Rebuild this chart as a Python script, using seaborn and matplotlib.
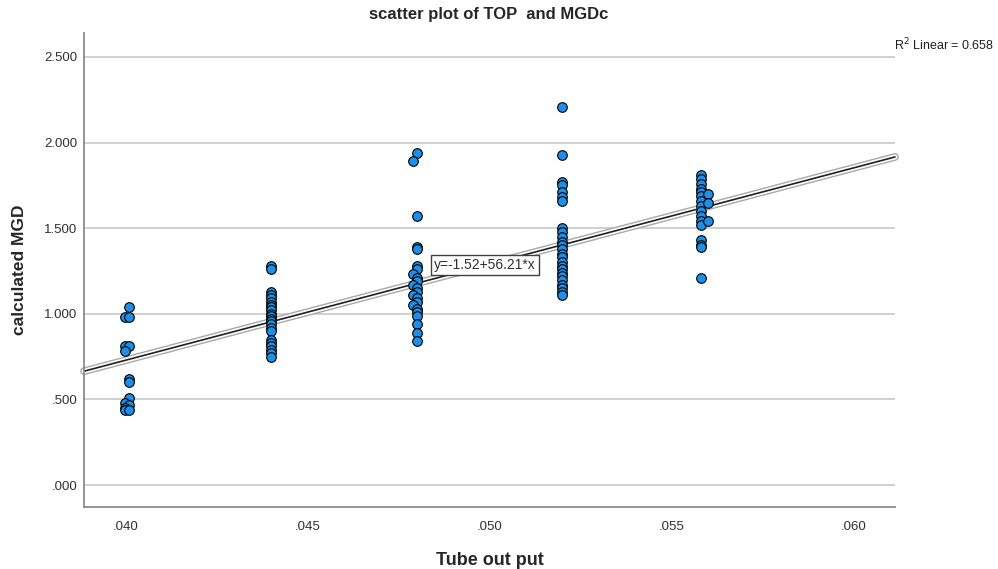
import numpy as np
import pandas as pd
import seaborn as sns
import matplotlib.pyplot as plt
from matplotlib.ticker import FuncFormatter

# values, one list per tube output group
x_040 = [.0401, .0400, .0401, .0400, .0401, .0400, .0401, .0401, .0401, .0400, .0401, .0400, .0400, .0401]
y_040 = [1.04, 0.98, 0.98, 0.81, 0.81, 0.78, 0.62, 0.60, 0.51, 0.48, 0.47, 0.45, 0.44, 0.44]

x_044 = [.044] * 22
y_044 = [1.28, 1.26, 1.13, 1.11, 1.09, 1.07, 1.05, 1.04, 1.02, 1.00, 0.99, 0.97, 0.96, 0.94,
         0.92, 0.90, 0.85, 0.83, 0.81, 0.79, 0.77, 0.75]

x_048 = [.0480, .0479, .0480, .0480, .0480, .0480, .0480, .0479, .0480, .0480, .0479, .0480,
         .0480, .0479, .0480, .0480, .0479, .0480, .0480, .0480, .0480, .0480, .0480]
y_048 = [1.94, 1.89, 1.57, 1.39, 1.38, 1.28, 1.26, 1.23, 1.21, 1.19, 1.17, 1.15, 1.13, 1.11,
         1.09, 1.07, 1.05, 1.03, 1.01, 0.99, 0.94, 0.89, 0.84]

x_052 = [.052] * 25
y_052 = [2.21, 1.93, 1.77, 1.75, 1.71, 1.68, 1.66, 1.50, 1.48, 1.45, 1.42, 1.40, 1.38, 1.35,
         1.33, 1.30, 1.28, 1.26, 1.24, 1.22, 1.20, 1.17, 1.15, 1.13, 1.11]

x_056 = [.0558, .0558, .0558, .0558, .0558, .0558, .0558, .0558, .0558, .0558, .0558, .0558,
         .0560, .0560, .0560, .0558, .0558, .0558, .0558]
y_056 = [1.81, 1.79, 1.76, 1.73, 1.71, 1.69, 1.66, 1.63, 1.60, 1.57, 1.54, 1.52, 1.70, 1.65,
         1.54, 1.43, 1.40, 1.39, 1.21]

# fit line as reported on the chart
intercept = -1.52
slope = 56.21
r2_text = "R$^2$ Linear = 0.658"
eq_text = "y=-1.52+56.21*x"

df = pd.DataFrame({
    'tube': x_040 + x_044 + x_048 + x_052 + x_056,
    'mgd': y_040 + y_044 + y_048 + y_052 + y_056,
})

sns.set_style("white")
plt.rcParams['font.family'] = ['Liberation Sans', 'DejaVu Sans']

fig = plt.figure(figsize=(9.98, 5.69), dpi=100)
ax = fig.add_axes([0.0842, 0.109, 0.8126, 0.833])

xmin, xmax = 0.03887, 0.06113
ax.set_xlim(xmin, xmax)
ax.set_ylim(-0.128, 2.64)

# horizontal grid lines
for v in [0, 0.5, 1.0, 1.5, 2.0, 2.5]:
    ax.axhline(v, color='#c8c8c8', lw=1.2, zorder=0)

# regression line with a halo
lx = np.array([xmin, xmax])
ly = intercept + slope * lx
ax.plot(lx, ly, color='#a8a8a8', lw=5.6, solid_capstyle='round', zorder=2, clip_on=False)
ax.plot(lx, ly, color='white', lw=3.6, solid_capstyle='round', zorder=2, clip_on=False)
ax.plot(lx, ly, color='#202020', lw=1.2, solid_capstyle='round', zorder=2, clip_on=False)

sns.scatterplot(data=df, x='tube', y='mgd', ax=ax, s=48, color='#1E8FE4',
                edgecolor='black', linewidth=0.8, zorder=3, legend=False)

ax.text(0.04848, 1.285, eq_text, fontsize=10, color='#303030', va='center', ha='left', zorder=4,
        bbox=dict(boxstyle='square,pad=0.2', facecolor='white', edgecolor='#404040', lw=1))

fig.text(0.896, 0.921, r2_text, fontsize=9, color='#202020', ha='left', va='center')

ax.set_xticks([0.040, 0.045, 0.050, 0.055, 0.060])
ax.set_yticks([0, 0.5, 1.0, 1.5, 2.0, 2.5])
ax.xaxis.set_major_formatter(FuncFormatter(lambda v, p: f"{v:.3f}".lstrip('0')))
ax.yaxis.set_major_formatter(FuncFormatter(lambda v, p: f"{v:.3f}".lstrip('0') if v < 1 else f"{v:.3f}"))
ax.tick_params(axis='both', length=0, labelsize=9.5, labelcolor='#303030')
ax.tick_params(axis='x', pad=10)
ax.tick_params(axis='y', pad=5)

for side in ['top', 'right']:
    ax.spines[side].set_visible(False)
for side in ['left', 'bottom']:
    ax.spines[side].set_color('#8c8c8c')
    ax.spines[side].set_linewidth(1.3)

ax.set_xlabel('Tube out put', fontsize=13, fontweight='bold', labelpad=14)
ax.set_ylabel('calculated MGD', fontsize=12.5, fontweight='bold', labelpad=12)
fig.suptitle('scatter plot of TOP  and MGDc', fontsize=12, fontweight='bold', x=0.49, y=0.988)

fig.savefig('out.png', dpi=100)
